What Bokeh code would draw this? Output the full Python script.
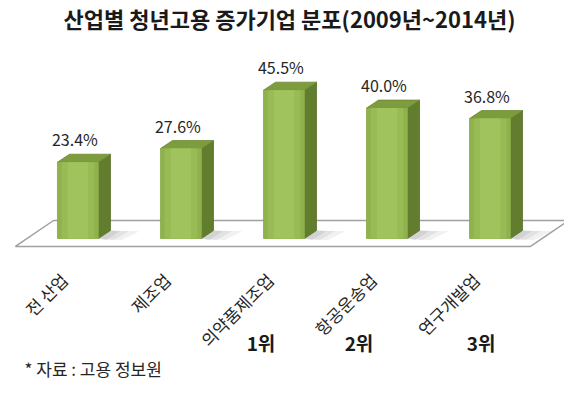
from bokeh.plotting import figure
from bokeh.models import Range1d, Label
from bokeh.core.properties import value
from bokeh.embed import file_html
from bokeh.resources import INLINE

# ---- data ----
categories = ["전 산업", "제조업", "의약품제조업", "항공운송업", "연구개발업"]
shares = [23.4, 27.6, 45.5, 40.0, 36.8]
share_labels = ["23.4%", "27.6%", "45.5%", "40.0%", "36.8%"]
ranks = ["", "", "1위", "2위", "3위"]
title_text = "산업별 청년고용 증가기업 분포(2009년~2014년)"
source_text = "* 자료 : 고용 정보원"

FONT = "Noto Sans CJK KR"
W, H = 564, 382

p = figure(width=W, height=H, output_backend="svg", toolbar_location=None,
           x_axis_type=None, y_axis_type=None, min_border=0,
           x_range=Range1d(-0.752, 4.723), y_range=Range1d(-44.17, 73.0))
p.grid.visible = False
p.outline_line_color = None
p.background_fill_color = "white"
p.border_fill_color = "white"

n = len(categories)
xs = list(range(n))

# 3D geometry (data units)
hw = 0.199      # half front width
ddx = 0.1165    # depth in x
ddy = 2.45      # depth in y

# floor
f_left, f_right = -0.607, n - 1 + 0.393
f_front, f_back = -2.45, 5.52
f_dx = 0.37
p.patch([f_left, f_right, f_right + f_dx, f_left + f_dx],
        [f_front, f_front, f_back, f_back],
        fill_color="white", line_color="#a0a0a0", line_width=1.5)

# soft shadows on the floor
for k, (w, a) in enumerate([(0.28, 0.12), (0.18, 0.15), (0.09, 0.18)]):
    sh_x, sh_y = [], []
    for c in xs:
        r = c + hw
        sh_x.append([r, r + ddx, r + ddx + w, r + w * 0.8])
        sh_y.append([0, ddy, ddy - 0.2, -0.5])
    p.patches(sh_x, sh_y, fill_color="#8c8c8c", fill_alpha=a, line_color=None)

# side faces and top faces
side_x, side_y, top_x, top_y = [], [], [], []
for c, v in zip(xs, shares):
    side_x.append([c + hw, c + hw + ddx, c + hw + ddx, c + hw])
    side_y.append([0, ddy, v + ddy, v])
    top_x.append([c - hw, c + hw, c + hw + ddx, c - hw + ddx])
    top_y.append([v, v, v + ddy, v + ddy])
p.patches(side_x, side_y, fill_color="#627d2e", line_color="#56702a", line_width=0.8)
p.patches(top_x, top_y, fill_color="#7c9c3d", line_color="#6d8a34", line_width=0.8)

# front faces with a light centre highlight
p.vbar(x=xs, top=shares, bottom=0, width=2 * hw, fill_color="#8fb24c",
       line_color="#86a846", line_width=0.8)
p.vbar(x=xs, top=shares, bottom=0, width=2 * hw * 0.8, fill_color="#98bb55",
       line_color=None)
p.vbar(x=xs, top=shares, bottom=0, width=2 * hw * 0.5, fill_color="#a0c35e",
       line_color=None)

# value labels
p.text(x=[c - 0.03 for c in xs], y=shares, text=share_labels, y_offset=-23,
       text_align="center", text_baseline="middle", text_font=value(FONT),
       text_font_size="16px", text_color="#262626")

# category labels (rotated)
p.text(x=[c - 0.136 for c in xs], y=[-11.6] * n, text=categories, angle=0.7854,
       text_align="right", text_baseline="middle", text_font=value(FONT),
       text_font_size="17px", text_color="#262626")

# rank labels
rank_offsets = [0, 0, -23, -28, -9]
for c, r, off in zip(xs, ranks, rank_offsets):
    if r:
        p.add_layout(Label(x=c, y=-31.9, x_offset=off, text=r, text_align="center",
                           text_baseline="middle", text_font=FONT,
                           text_font_size="19px", text_font_style="bold",
                           text_color="#1a1a1a"))

# title
p.add_layout(Label(x=289, y=H - 17, x_units="screen", y_units="screen",
                   text=title_text, text_align="center", text_baseline="middle",
                   text_font=FONT, text_font_size="22px", text_font_style="bold",
                   text_color="#1a1a1a"))

# source
p.add_layout(Label(x=24, y=14, x_units="screen", y_units="screen",
                   text=source_text, text_align="left", text_baseline="middle",
                   text_font=FONT, text_font_size="17px", text_color="#262626"))

open("out.html", "w").write(file_html(p, INLINE))
